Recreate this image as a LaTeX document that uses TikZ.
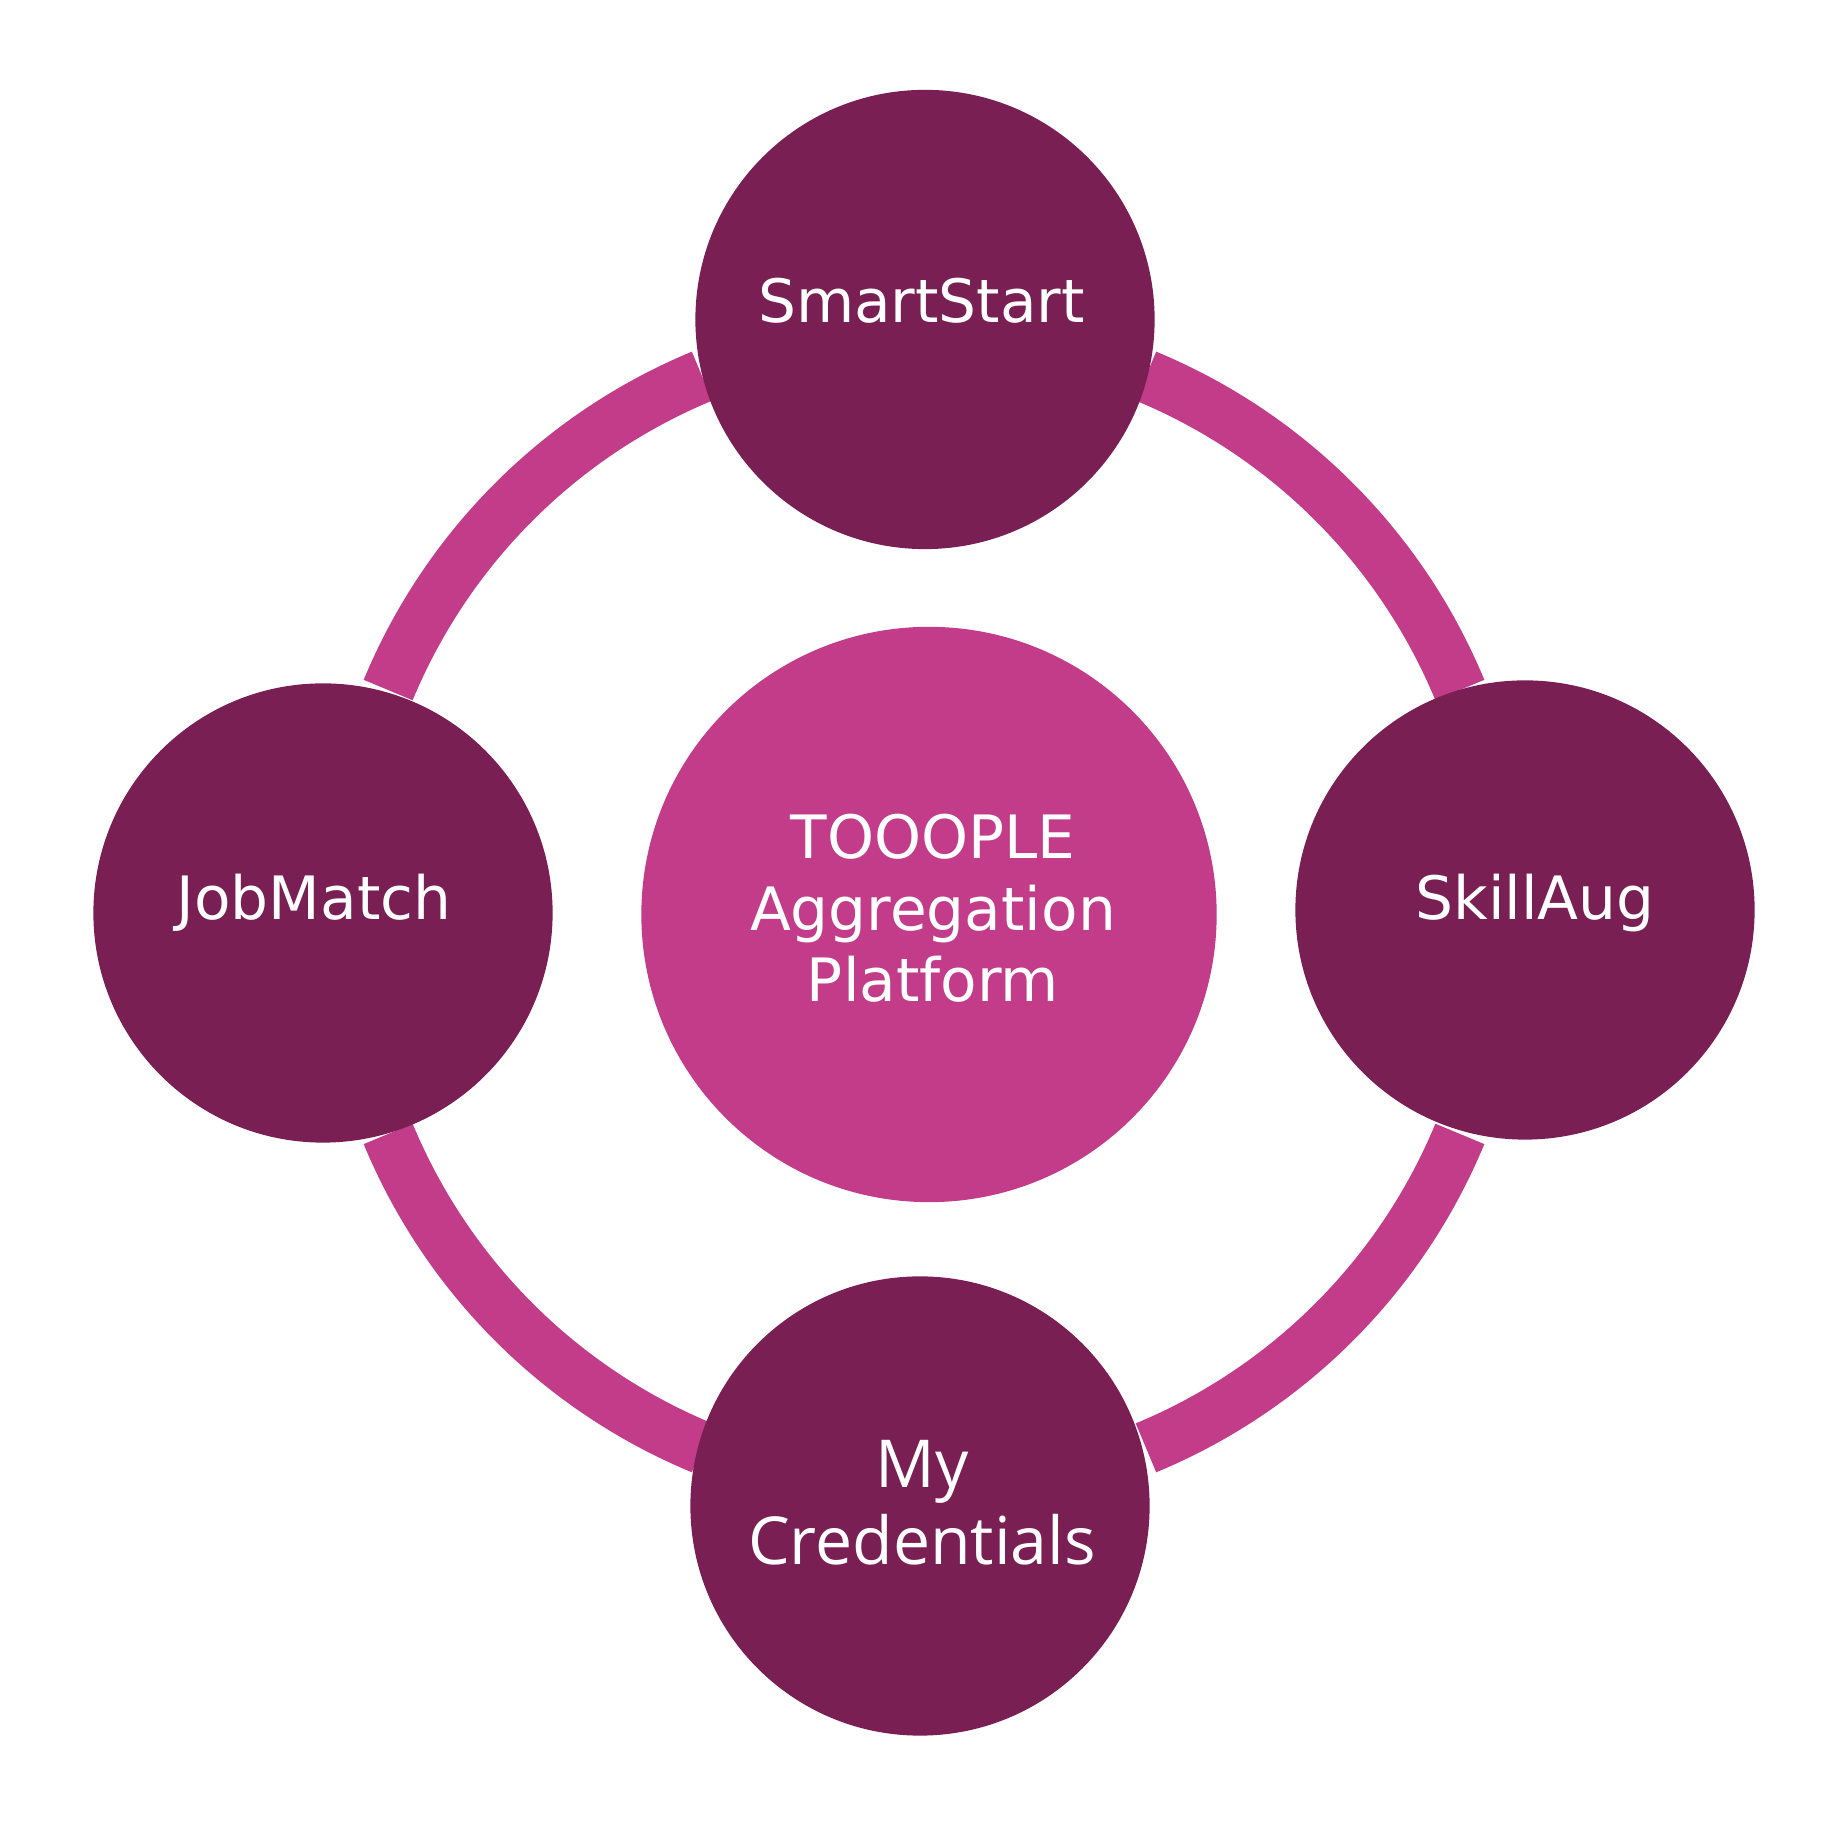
\documentclass[tikz,border=0pt]{standalone}
\usepackage{fontspec}
\setmainfont{DejaVu Sans}
\newfontfamily\credfont{Open Sans}
\definecolor{plum}{RGB}{122,31,83}
\definecolor{orchid}{RGB}{194,60,138}

\begin{document}
\begin{tikzpicture}[
  x=0.01cm, y=0.01cm,
  hub/.style     = {circle, fill=orchid, inner sep=0pt, minimum size=5.75cm},
  spoke/.style   = {circle, fill=plum, inner sep=0pt, minimum size=4.59cm},
  ringarc/.style = {draw=orchid, line width=0.53cm},
  txt/.style     = {text=white, inner sep=0pt, align=center, anchor=base,
                    font=\fontsize{17}{20.4}\selectfont}
]
\useasboundingbox (0,0) rectangle (1843,1843);

%% ---- RING ----
\coordinate (ring) at (924,931);
\foreach \a in {22.5,112.5,202.5,292.5}
  \draw[ringarc] (ring) ++(\a:580) arc[start angle=\a, delta angle=45, radius=580];

%% ---- CIRCLES ----
\node[hub]   (hub)   at (929,928.5) {};
\node[spoke] (smart) at (925,1523.5) {};
\node[spoke] (job)   at (323,930)    {};
\node[spoke] (skill) at (1525,933)   {};
\node[spoke] (cred)  at (920,337)    {};

% labels (base = last line)
\node[txt] (hubtxt)   at (933,841)    {TOOOPLE\\Aggregation\\Platform};
\node[txt] (smarttxt) at (921.5,1520) {SmartStart};
\node[txt] (jobtxt)   at (314,923)    {JobMatch};
\node[txt] (skilltxt) at (1535,923)   {SkillAug};
\node[txt, font=\credfont\fontsize{18.8}{21.9}\selectfont]
      (credtxt) at (922,278) {My\\Credentials};

\end{tikzpicture}
\end{document}
